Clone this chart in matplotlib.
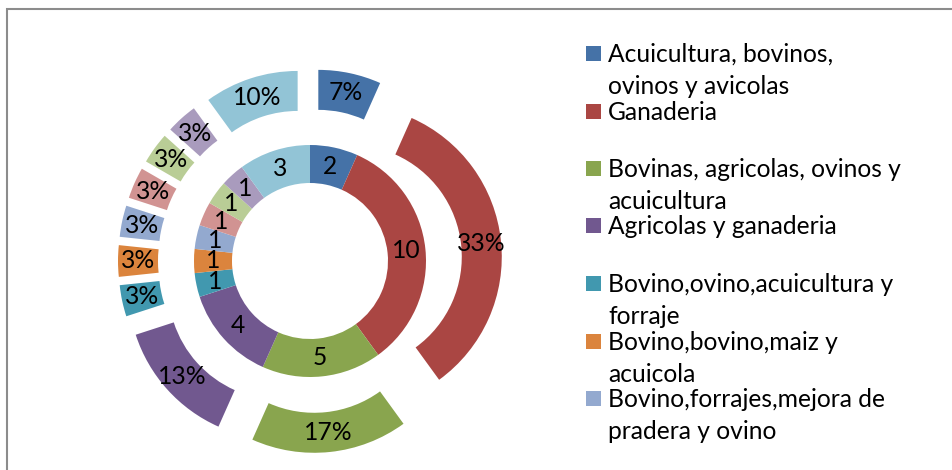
import matplotlib.pyplot as plt
from matplotlib.patches import Rectangle

plt.rcParams['font.family'] = ['Lato', 'DejaVu Sans']

# data: number of producers per activity combination
values = [2, 10, 5, 4, 1, 1, 1, 1, 1, 1, 3]
colors = ['#4572A7', '#AA4643', '#89A54E', '#71588F', '#4198AF', '#DB843D',
          '#93A9CF', '#D19392', '#B9CD96', '#A99BBD', '#92C4D6']
legend_labels = [
    "Acuicultura, bovinos,\novinos y avicolas",
    "Ganaderia",
    "Bovinas, agricolas, ovinos y\nacuicultura",
    "Agricolas y ganaderia",
    "Bovino,ovino,acuicultura y\nforraje",
    "Bovino,bovino,maiz y\nacuicola",
    "Bovino,forrajes,mejora de\npradera y ovino",
]

W, H = 953, 470
FS = 17.7
fig = plt.figure(figsize=(W / 100, H / 100), dpi=100)
ax = fig.add_axes([0, 0, 1, 1])

cx, cy = 310, H - 261
total = sum(values)

# inner ring: counts
ax.pie(values, radius=116, center=(cx, cy), startangle=90, counterclock=False,
       colors=colors, wedgeprops=dict(width=38, linewidth=0),
       autopct=lambda p: f"{p * total / 100:.0f}", pctdistance=97 / 116,
       textprops=dict(fontsize=FS, color='black'))

# outer ring: exploded percentages
ax.pie(values, radius=152, center=(cx, cy), startangle=90, counterclock=False,
       colors=colors, explode=[40] * len(values),
       wedgeprops=dict(width=40, linewidth=0),
       autopct='%.0f%%', pctdistance=132 / 152,
       textprops=dict(fontsize=FS, color='black'))

ax.set_xlim(0, W)
ax.set_ylim(0, H)
ax.axis('off')

# chart border (cut off at right/bottom)
ax.add_patch(Rectangle((7, -20), W + 40, H - 9 + 20, fill=False,
                       edgecolor='#8c8c8c', linewidth=1.5, clip_on=False))

# legend (only the visible entries)
slot = 57.5
for i, lab in enumerate(legend_labels):
    base = H - (62 + i * slot)
    ax.add_patch(Rectangle((586, base + 1), 15, 15, color=colors[i], linewidth=0))
    for j, line in enumerate(lab.split("\n")):
        ax.text(608, base - j * 32, line, fontsize=FS, va='baseline', ha='left')

fig.savefig("out.png", dpi=100)
